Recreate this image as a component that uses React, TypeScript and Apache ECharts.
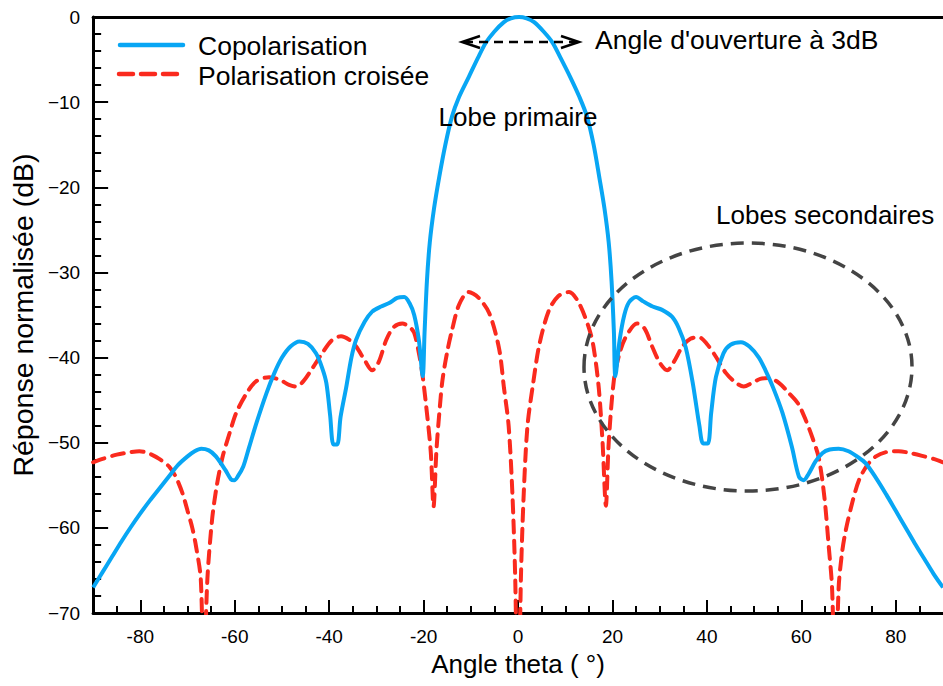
import React, { useEffect, useRef } from "react";
import * as echarts from "echarts";

// Copolarisation (co-polar) pattern, theta in degrees, response in dB
const coTheta = [
  -90, -88, -86, -84, -82, -80, -78, -76, -74, -72, -70, -68.5, -67.1, -65.5, -64, -62, -60.8, -60.1,
  -59.3, -58.2, -57, -55.3, -53.3, -51.6, -50, -48.2, -46.3, -44.5, -42.8, -41.5, -40.6, -39.8, -39.1,
  -38.3, -37.6, -36.4, -35.3, -34.3, -32.5, -30.9, -29, -27.3, -25.6, -24.1, -23, -22, -21, -20.2,
  -19.8, -19.3, -18.7, -17.8, -16.7, -15.4, -14, -12.5, -10.4, -8.5, -6.8, -5, -3, -1.5, 0.2,
  1.8, 3.4, 5.4, 7.3, 9, 11, 13, 14.6, 16, 17.2, 18.3, 19.2, 19.8, 20.3, 20.6,
  21.5, 22.5, 23.5, 25, 26.5, 28.5, 30.5, 32.6, 34, 35.5, 37, 38.4, 39.2, 40.2, 40.9, 41.9, 43.5, 45,
  47.2, 49, 51, 52.4, 54, 56, 58, 59.5, 60.5, 61.5, 63, 64.5, 66, 67.9, 70, 72, 73.6, 76, 78, 80,
  82, 84, 86, 88, 90,
];
const coDb = [
  -67, -65.2, -63.4, -61.6, -59.9, -58.3, -56.8, -55.4, -54, -52.6, -51.6, -51, -50.7, -50.9, -51.6,
  -53.2, -54.3, -54.4, -53.9, -52.8, -50.6, -47.5, -44.2, -41.8, -40, -38.7, -38.1, -38.4, -39.5,
  -41.2, -43, -46.8, -50.2, -50.2, -47, -43.5, -40, -37.9, -35.8, -34.6, -34, -33.6, -33, -32.9, -33.6,
  -35, -38, -42.2, -37, -31, -26.5, -22.5, -18.8, -15, -11.7, -9.4, -7, -4.8, -3, -1.7, -0.6, -0.15, 0,
  -0.15, -0.6, -1.7, -3, -4.8, -7, -9.4, -11.7, -15, -18.8, -22.5, -26.5, -31, -37, -42.2,
  -38, -35, -33.5, -32.9, -33.4, -34, -34.4, -35.2, -36.5, -38.8, -43, -48, -50.1, -50.1, -46.5, -42.3,
  -39.5, -38.5, -38.2, -38.7, -40, -41.5, -43.5, -46.5, -50.5, -54, -54.4, -53.7, -52.2, -51.2, -50.8,
  -50.7, -51, -51.7, -52.4, -54.3, -56.1, -58, -59.9, -61.8, -63.6, -65.4, -67,
];

// Polarisation croisée (cross-polar) pattern
const crossTheta = [
  -90, -88, -85, -82, -80.2, -78, -76, -73.9, -72.5, -71.1, -70, -69, -68.2, -67.2, -66.6, -65.8, -64.8,
  -63.8, -62.6, -61, -59.7, -57.5, -55.5, -52.7, -50.5, -48.5, -47, -45.5, -43.5, -41.5, -39.5, -37.5,
  -35.8, -34.3, -32.5, -30.9, -29.5, -27.9, -26.3, -24.5, -23, -22, -21, -20.3, -19.5, -18.5, -17.9,
  -17.3, -16.6, -16, -15, -14, -12.5, -10.5, -8.5, -6.1, -4, -3, -2, -1.2, -0.6, 0, 0.6, 1.2, 2, 3.2,
  4.5, 6.5, 8.5, 10.8, 12.8, 15, 16, 17.1, 17.9, 18.6, 19.2, 20.3, 21.5, 22.8, 25.2, 26.8, 28.4, 30,
  31.6, 33, 34.8, 36.5, 38.3, 40, 41.9, 44, 46, 47.8, 49.5, 51.3, 53.1, 55.3, 57.4, 59.3, 60.9, 62.4,
  63.7, 64.9, 65.8, 66.5, 67.2, 67.9, 68.6, 69.4, 70.8, 72.2, 74, 75.8, 78, 80.6, 83, 86, 88, 90,
];
const crossDb = [
  -52.3, -51.9, -51.4, -51.1, -51, -51.3, -51.9, -52.8, -54, -55.9, -58, -60, -62.2, -66, -78, -66, -59,
  -55, -51.7, -48.7, -46.5, -44.2, -42.8, -42.3, -42.6, -43.2, -43.4, -42.8, -41.2, -39.5, -38, -37.5,
  -37.9, -38.7, -40.3, -41.5, -40.5, -37.9, -36.4, -36, -36.4, -37.1, -39.5, -41.8, -45.5, -51, -57.5,
  -51, -46, -42.6, -39.3, -36.8, -33.8, -32.3, -32.9, -34.8, -39, -43.5, -48, -56, -66, -85, -66, -56,
  -48, -43, -38.5, -34.5, -32.8, -32.3, -33.5, -36.5, -38.8, -43.6, -50, -57.4, -50, -42.6, -39.5,
  -37.6, -36, -36.6, -38.7, -40.6, -41.5, -40.5, -38.7, -37.8, -37.6, -38.4, -39.9, -41.8, -42.9, -43.4,
  -43, -42.5, -42.4, -43, -44.2, -45.4, -47.3, -49.5, -51.8, -56.5, -62.2, -67, -80, -67, -63, -60.3,
  -57, -54.4, -52.6, -51.6, -51.1, -51, -51.2, -51.6, -51.9, -52.3,
];

const xMajorTicks = [-80, -60, -40, -20, 0, 20, 40, 60, 80];
const xMinorTicks = [
  -85, -75, -70, -65, -55, -50, -45, -35, -30, -25, -15, -10, -5, 5, 10, 15, 25, 30, 35, 45, 50, 55, 65,
  70, 75, 85,
];

const seriesNames = ["Copolarisation", "Polarisation croisée"];
const FONT = "Liberation Sans, Arial, sans-serif";
const BLUE = "#08A6F4";
const RED = "#FA2A1E";

export default function App() {
  const ref = useRef<HTMLDivElement>(null);
  useEffect(() => {
    if (!ref.current) return;
    const chart = echarts.init(ref.current, undefined, { renderer: "svg" });
    const coData = coTheta.map((t, i) => [t, coDb[i]]);
    const crossData = crossTheta.map((t, i) => [t, crossDb[i]]);
    const axisBase = {
      type: "value" as const,
      min: -90,
      max: 90,
      splitLine: { show: false },
    };
    chart.setOption({
      animation: false,
      backgroundColor: "#ffffff",
      grid: { left: 91, right: 0, top: 17, bottom: 73, containLabel: false },
      legend: {
        orient: "vertical",
        left: 118,
        top: 32,
        padding: 0,
        icon: "rect",
        itemWidth: 67,
        itemHeight: 4,
        itemGap: 3,
        itemStyle: { opacity: 0 },
        data: seriesNames,
        textStyle: {
          fontFamily: FONT,
          fontSize: 26.5,
          color: "#000",
          lineHeight: 26,
          padding: [0, 0, 0, 8],
        },
      },
      xAxis: [
        {
          ...axisBase,
          position: "bottom",
          name: "Angle theta ( °)",
          nameLocation: "middle",
          nameGap: 37,
          nameTextStyle: { fontFamily: FONT, fontSize: 26, color: "#000" },
          axisLine: { onZero: false, lineStyle: { color: "#000", width: 3 } },
          axisTick: {
            inside: true,
            length: 13,
            customValues: xMajorTicks,
            lineStyle: { color: "#000", width: 2 },
          },
          axisLabel: {
            customValues: xMajorTicks,
            fontFamily: FONT,
            fontSize: 19,
            color: "#000",
            margin: 14,
          },
        },
        {
          ...axisBase,
          position: "bottom",
          axisLine: { show: false, onZero: false },
          axisTick: {
            inside: true,
            length: 7,
            customValues: xMinorTicks,
            lineStyle: { color: "#000", width: 2 },
          },
          axisLabel: { show: false },
        },
        {
          ...axisBase,
          position: "top",
          axisLine: { onZero: false, lineStyle: { color: "#000", width: 3 } },
          axisTick: { show: false },
          axisLabel: { show: false },
        },
      ],
      yAxis: {
        type: "value",
        min: -70,
        max: 0,
        interval: 10,
        name: "Réponse normalisée (dB)",
        nameLocation: "middle",
        nameGap: 48,
        nameTextStyle: { fontFamily: FONT, fontSize: 28.5, color: "#000" },
        splitLine: { show: false },
        axisLine: { onZero: false, lineStyle: { color: "#000", width: 3 } },
        axisTick: { inside: true, length: 15, lineStyle: { color: "#000", width: 2 } },
        minorTick: { show: true, splitNumber: 5, length: 8, lineStyle: { color: "#000", width: 2 } },
        axisLabel: {
          fontFamily: FONT,
          fontSize: 19,
          color: "#000",
          margin: 13,
          formatter: (v: number) => String(v).replace("-", "\u2212"),
        },
      },
      series: [
        {
          name: seriesNames[0],
          type: "line",
          data: coData,
          symbol: "none",
          smooth: 0.3,
          clip: true,
          lineStyle: { color: BLUE, width: 4 },
          itemStyle: { color: BLUE },
          z: 3,
        },
        {
          name: seriesNames[1],
          type: "line",
          data: crossData,
          symbol: "none",
          smooth: 0.3,
          clip: true,
          lineStyle: { color: RED, width: 4, type: [12, 8], cap: "round" },
          itemStyle: { color: RED },
          z: 2,
        },
      ],
      graphic: [
        // legend line samples
        {
          type: "line",
          shape: { x1: 120, y1: 45, x2: 183, y2: 45 },
          style: { stroke: BLUE, lineWidth: 4.5, lineCap: "round" },
          z: 10,
        },
        {
          type: "line",
          shape: { x1: 119, y1: 74, x2: 177, y2: 74 },
          style: { stroke: RED, lineWidth: 4.5, lineCap: "round", lineDash: [14, 8] },
          z: 10,
        },
        // 3 dB beamwidth arrow
        {
          type: "line",
          shape: { x1: 464, y1: 42, x2: 577, y2: 42 },
          style: { stroke: "#000", lineWidth: 2.5, lineDash: [9, 6] },
          z: 10,
        },
        {
          type: "polyline",
          shape: { points: [[480, 36], [462, 42], [480, 48]] },
          style: { stroke: "#000", lineWidth: 2.5, fill: "none" },
          z: 10,
        },
        {
          type: "polyline",
          shape: { points: [[561, 36], [579, 42], [561, 48]] },
          style: { stroke: "#000", lineWidth: 2.5, fill: "none" },
          z: 10,
        },
        {
          type: "text",
          x: 595,
          y: 40,
          style: {
            text: "Angle d'ouverture à 3dB",
            fontFamily: FONT,
            fontSize: 26.5,
            fill: "#000",
            textAlign: "left",
            textVerticalAlign: "middle",
          },
          z: 10,
        },
        {
          type: "text",
          x: 518,
          y: 117,
          style: {
            text: "Lobe primaire",
            fontFamily: FONT,
            fontSize: 26,
            fill: "#000",
            textAlign: "center",
            textVerticalAlign: "middle",
          },
          z: 10,
        },
        {
          type: "text",
          x: 716,
          y: 215,
          style: {
            text: "Lobes secondaires",
            fontFamily: FONT,
            fontSize: 26,
            fill: "#000",
            textAlign: "left",
            textVerticalAlign: "middle",
          },
          z: 10,
        },
        {
          type: "ellipse",
          shape: { cx: 748, cy: 367, rx: 164, ry: 124 },
          style: { stroke: "#444444", lineWidth: 3.5, lineDash: [13, 8], fill: "none" },
          z: 10,
        },
      ],
    });
    return () => chart.dispose();
  }, []);
  return (
    <div
      ref={ref}
      style={{ position: "fixed", left: 0, top: 0, width: 943, height: 686, background: "#fff" }}
    />
  );
}
